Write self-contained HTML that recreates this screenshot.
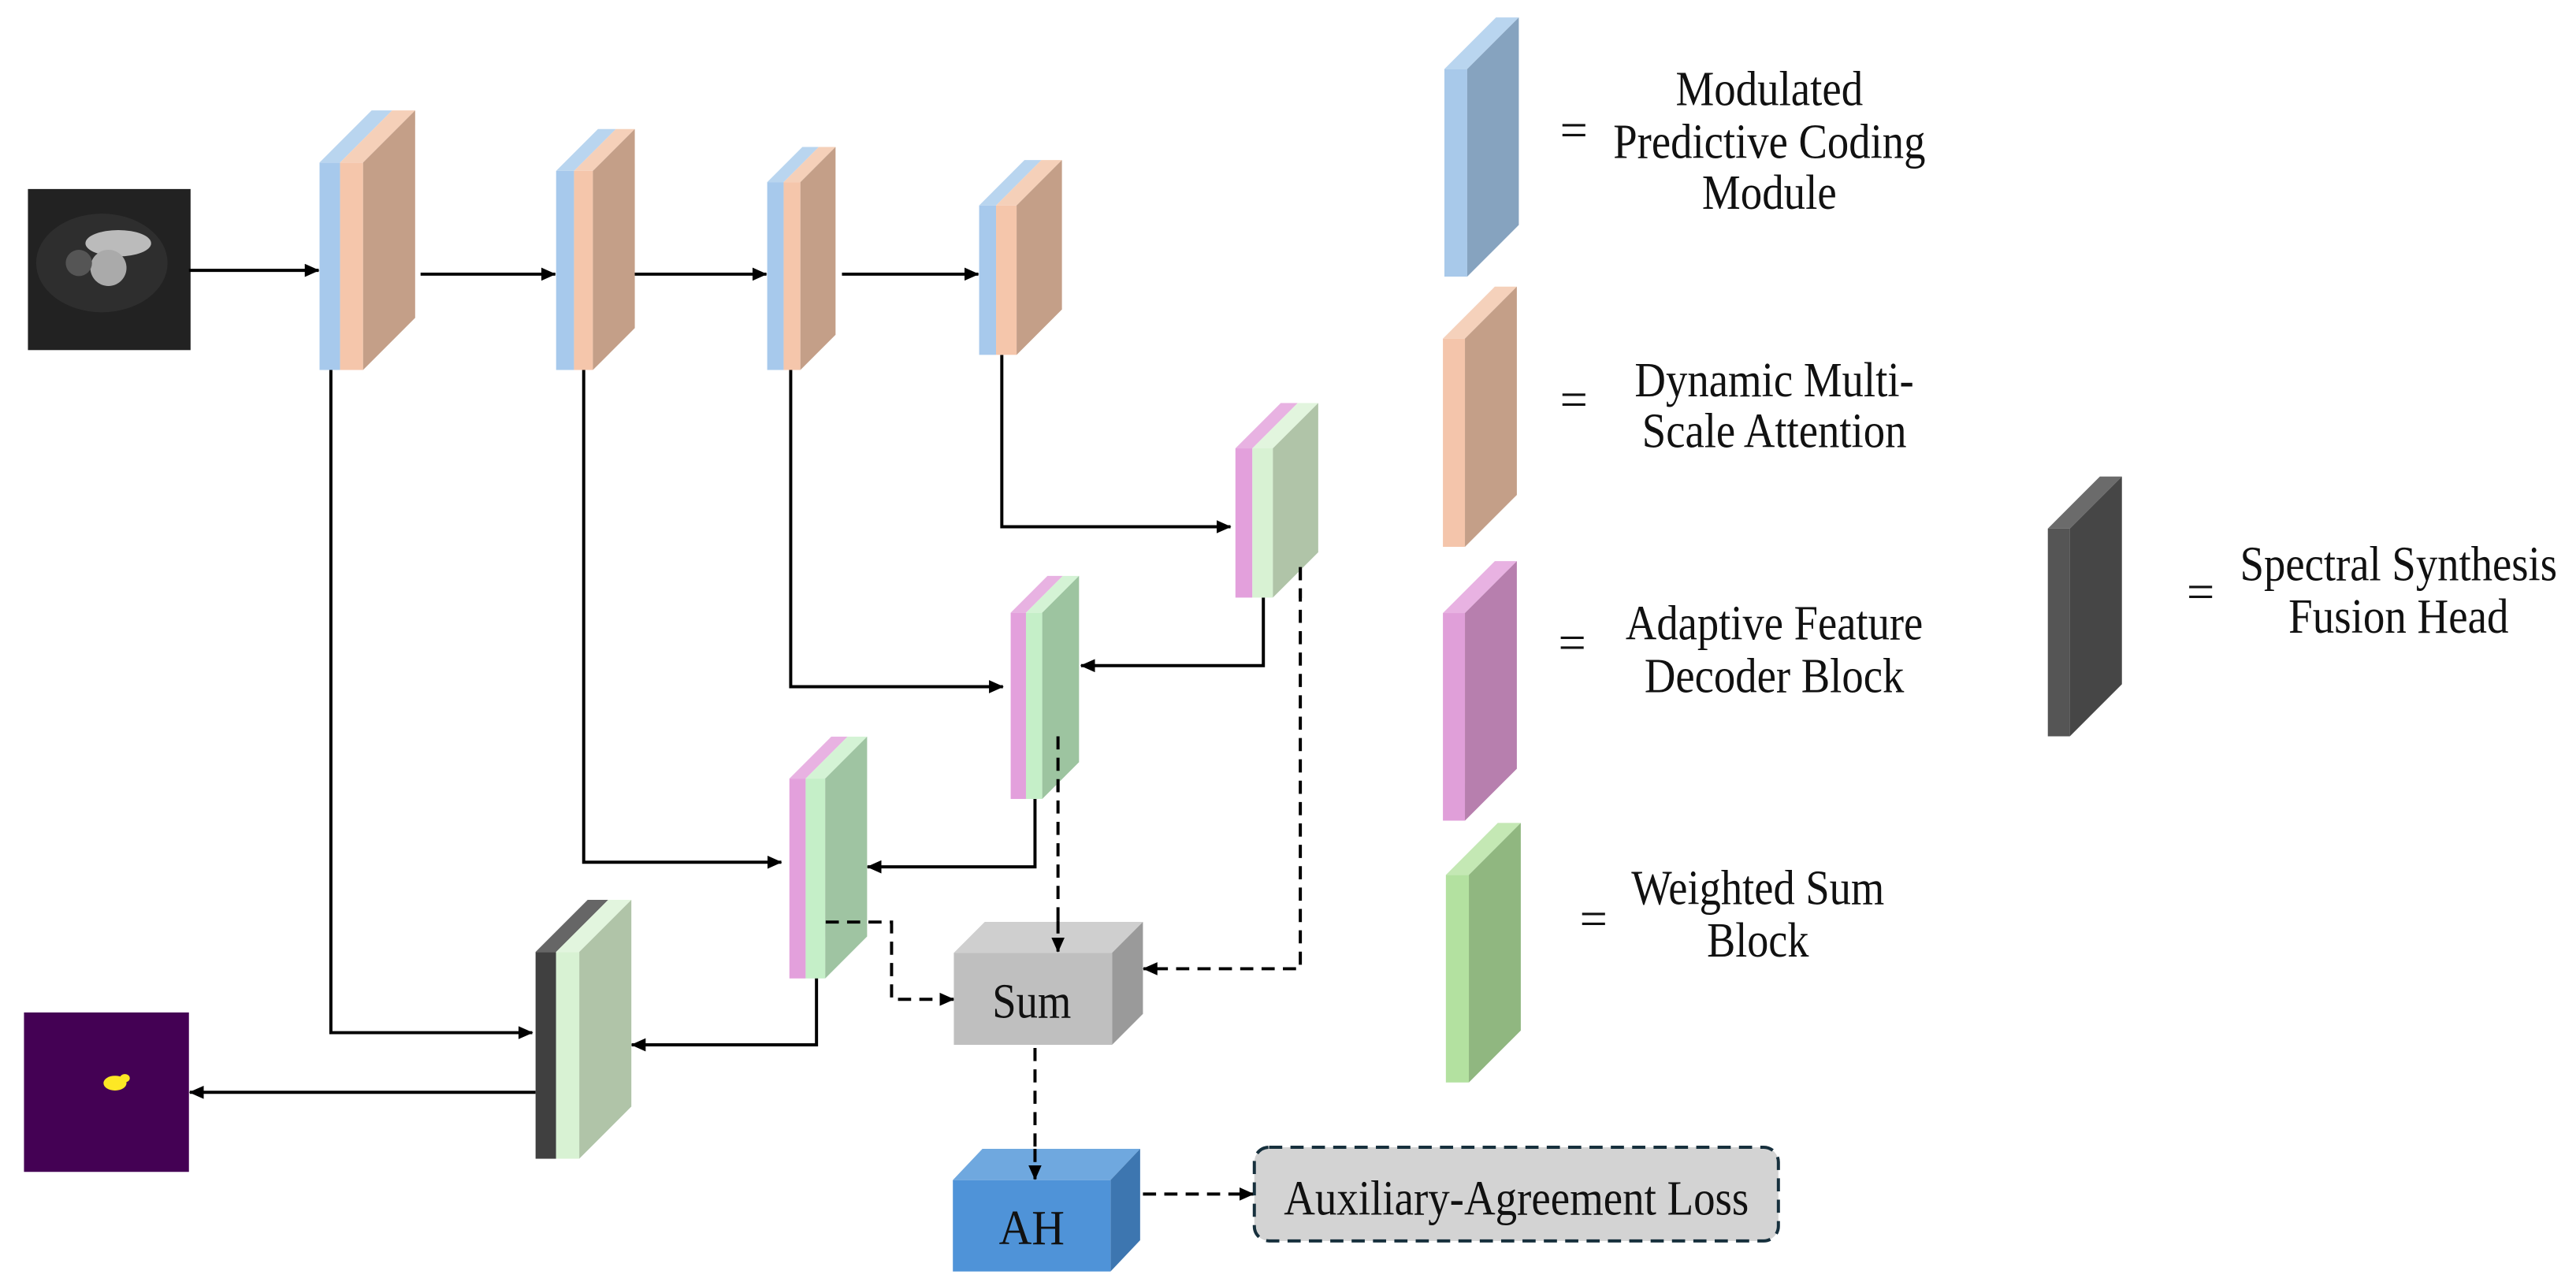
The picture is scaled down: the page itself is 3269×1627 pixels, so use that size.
<!DOCTYPE html>
<html><head><meta charset="utf-8"><style>
html,body{margin:0;padding:0;background:#fff;}
svg{display:block;font-family:"Liberation Serif","DejaVu Serif",serif;}
svg text{font-family:"Liberation Serif","DejaVu Serif",serif;fill:#111;}
</style></head><body>
<svg width="3269" height="1627" viewBox="0 0 1568 780" preserveAspectRatio="none" xmlns="http://www.w3.org/2000/svg">
<defs>
<marker id="ah" markerWidth="9" markerHeight="8" refX="8.5" refY="4" orient="auto" markerUnits="userSpaceOnUse">
<polygon points="0,0 9,4 0,8" fill="#000"/>
</marker>
</defs>
<rect width="1568" height="780" fill="#fff"/>

<rect x="17" y="115" width="99" height="98" fill="#222"/>
<ellipse cx="62" cy="160" rx="40" ry="30" fill="#2e2e2e"/>
<ellipse cx="72" cy="148" rx="20" ry="8" fill="#bbb"/>
<ellipse cx="66" cy="163" rx="11" ry="11" fill="#aaa"/>
<ellipse cx="48" cy="160" rx="8" ry="8" fill="#555"/>
<rect x="14.6" y="616" width="100.4" height="97" fill="#440154"/>
<ellipse cx="70" cy="659" rx="7" ry="4.5" fill="#fde725"/>
<ellipse cx="76" cy="656" rx="3" ry="2.5" fill="#fde725"/>

<g stroke="#000" stroke-width="1.9" fill="none">
<polyline points="115,164.5 194,164.5" marker-end="url(#ah)"/>
<polyline points="256,166.8 338,166.8" marker-end="url(#ah)"/>
<polyline points="384,166.8 466.5,166.8" marker-end="url(#ah)"/>
<polyline points="512.5,166.8 595.5,166.8" marker-end="url(#ah)"/>
<polyline points="609.8,216 609.8,320.5 749,320.5" marker-end="url(#ah)"/>
<polyline points="481.3,225 481.3,417.8 610.5,417.8" marker-end="url(#ah)"/>
<polyline points="355.3,225 355.3,524.6 475.6,524.6" marker-end="url(#ah)"/>
<polyline points="201.4,225 201.4,628.3 324,628.3" marker-end="url(#ah)"/>
<polyline points="769,363.6 769,405 658,405" marker-end="url(#ah)"/>
<polyline points="630,486 630,527.4 528,527.4" marker-end="url(#ah)"/>
<polyline points="497,595 497,635.7 384.5,635.7" marker-end="url(#ah)"/>
<polyline points="326,664.6 115.5,664.6" marker-end="url(#ah)"/>
</g>
<g stroke="#000" stroke-width="1.9" fill="none" stroke-dasharray="8,5">
<polyline points="791.5,345 791.5,589.4 696,589.4" marker-end="url(#ah)"/>
<polyline points="644,448 644,579" marker-end="url(#ah)"/>
<polyline points="502.6,561 542.7,561 542.7,608 580.5,608" marker-end="url(#ah)"/>
<polyline points="630,637.6 630,717.5" marker-end="url(#ah)"/>
<polyline points="695.7,726.5 763,726.5" marker-end="url(#ah)"/>
</g>

<g>
<rect x="194.5" y="98.9" width="12.5" height="126.2" fill="#a7c9ec"/>
<polygon points="194.5,98.9 207,98.9 238.7,67.2 226.2,67.2" fill="#b9d5ef"/>
<rect x="207" y="98.9" width="14" height="126.2" fill="#f5c6ab"/>
<polygon points="207,98.9 221,98.9 252.7,67.2 238.7,67.2" fill="#f5d0b9"/>
<polygon points="221,98.9 252.7,67.2 252.7,193.4 221,225.1" fill="#c49f88"/>

<rect x="338.5" y="104" width="10.9" height="121.1" fill="#a7c9ec"/>
<polygon points="338.5,104 349.4,104 374.9,78.5 364,78.5" fill="#b9d5ef"/>
<rect x="349.4" y="104" width="11.5" height="121.1" fill="#f5c6ab"/>
<polygon points="349.4,104 360.9,104 386.4,78.5 374.9,78.5" fill="#f5d0b9"/>
<polygon points="360.9,104 386.4,78.5 386.4,199.6 360.9,225.1" fill="#c49f88"/>

<rect x="467" y="110.8" width="10" height="114.3" fill="#a7c9ec"/>
<polygon points="467,110.8 477,110.8 498.4,89.4 488.4,89.4" fill="#b9d5ef"/>
<rect x="477" y="110.8" width="10.2" height="114.3" fill="#f5c6ab"/>
<polygon points="477,110.8 487.2,110.8 508.6,89.4 498.4,89.4" fill="#f5d0b9"/>
<polygon points="487.2,110.8 508.6,89.4 508.6,203.7 487.2,225.1" fill="#c49f88"/>

<rect x="596" y="125" width="10.3" height="90.9" fill="#a7c9ec"/>
<polygon points="596,125 606.3,125 633.9,97.4 623.6,97.4" fill="#b9d5ef"/>
<rect x="606.3" y="125" width="12.5" height="90.9" fill="#f5c6ab"/>
<polygon points="606.3,125 618.8,125 646.4,97.4 633.9,97.4" fill="#f5d0b9"/>
<polygon points="618.8,125 646.4,97.4 646.4,188.3 618.8,215.9" fill="#c49f88"/>
</g>

<g>
<rect x="752" y="272.8" width="10.3" height="90.8" fill="#e3a0dc"/>
<polygon points="752,272.8 762.3,272.8 789.9,245.2 779.6,245.2" fill="#e8b2e2"/>
<rect x="762.3" y="272.8" width="12.5" height="90.8" fill="#d8f2d3"/>
<polygon points="762.3,272.8 774.8,272.8 802.4,245.2 789.9,245.2" fill="#e2f5de"/>
<polygon points="774.8,272.8 802.4,245.2 802.4,336 774.8,363.6" fill="#b0c4a8"/>

<rect x="615.2" y="372.8" width="9.3" height="113.3" fill="#e3a0dc"/>
<polygon points="615.2,372.8 624.5,372.8 646.9,350.4 637.6,350.4" fill="#e8b2e2"/>
<rect x="624.5" y="372.8" width="9.9" height="113.3" fill="#c5efc8"/>
<polygon points="624.5,372.8 634.4,372.8 656.8,350.4 646.9,350.4" fill="#d4f3d5"/>
<polygon points="634.4,372.8 656.8,350.4 656.8,463.7 634.4,486.1" fill="#9dc4a0"/>

<rect x="480.5" y="473.7" width="9.9" height="121.6" fill="#e3a0dc"/>
<polygon points="480.5,473.7 490.4,473.7 515.9,448.2 506,448.2" fill="#e8b2e2"/>
<rect x="490.4" y="473.7" width="11.9" height="121.6" fill="#c5efc8"/>
<polygon points="490.4,473.7 502.3,473.7 527.8,448.2 515.9,448.2" fill="#d4f3d5"/>
<polygon points="502.3,473.7 527.8,448.2 527.8,569.8 502.3,595.3" fill="#9fc4a2"/>

<rect x="326" y="579.2" width="12.5" height="125.8" fill="#404040"/>
<polygon points="326,579.2 338.5,579.2 370.2,547.5 357.7,547.5" fill="#666"/>
<rect x="338.5" y="579.2" width="14.1" height="125.8" fill="#d8f2d3"/>
<polygon points="338.5,579.2 352.6,579.2 384.3,547.5 370.2,547.5" fill="#e2f5de"/>
<polygon points="352.6,579.2 384.3,547.5 384.3,673.3 352.6,705" fill="#b0c4a8"/>
</g>

<g stroke="#000" stroke-width="1.9" fill="none" stroke-dasharray="8,5">
<line x1="644" y1="448" x2="644" y2="486"/>
<line x1="791.5" y1="345" x2="791.5" y2="364"/>
<line x1="502.6" y1="561" x2="527.8" y2="561"/>
</g>

<polygon points="580.6,579.7 676.9,579.7 695.7,560.9 599.4,560.9" fill="#cfcfcf"/>
<polygon points="676.9,579.7 695.7,560.9 695.7,616.9 676.9,635.7" fill="#9a9a9a"/>
<rect x="580.6" y="579.7" width="96.3" height="56" fill="#bfbfbf"/>
<text x="628" y="609" font-size="30" text-anchor="middle" dominant-baseline="central" textLength="48" lengthAdjust="spacingAndGlyphs">Sum</text>
<line x1="644" y1="560" x2="644" y2="579" stroke="#000" stroke-width="1.9" stroke-dasharray="8,5" marker-end="url(#ah)"/>

<polygon points="580,718 676,718 694,699 598,699" fill="#6fa8df"/>
<polygon points="676,718 694,699 694,754.6 676,773.6" fill="#3d76b0"/>
<rect x="580" y="718" width="96" height="55.6" fill="#4f93d8"/>
<line x1="630" y1="699" x2="630" y2="717.5" stroke="#000" stroke-width="1.9" stroke-dasharray="8,5" marker-end="url(#ah)"/>
<text x="628" y="747" font-size="30" text-anchor="middle" dominant-baseline="central" textLength="40" lengthAdjust="spacingAndGlyphs">AH</text>

<rect x="763.5" y="698" width="319" height="57" rx="9" ry="9" fill="#d3d3d3" stroke="#17303d" stroke-width="1.9" stroke-dasharray="8,5"/>
<text x="923" y="729" font-size="30" text-anchor="middle" dominant-baseline="central" textLength="283" lengthAdjust="spacingAndGlyphs">Auxiliary-Agreement Loss</text>

<rect x="879.2" y="42" width="13.9" height="126.3" fill="#a8c9ea"/>
<polygon points="879.2,42 893.1,42 924.5,10.6 910.6,10.6" fill="#b9d5ef"/>
<polygon points="893.1,42 924.5,10.6 924.5,136.9 893.1,168.3" fill="#86a3bf"/>

<rect x="878.3" y="206" width="13.4" height="126.7" fill="#f4c5ab"/>
<polygon points="878.3,206 891.7,206 923.3,174.4 909.9,174.4" fill="#f5d1bb"/>
<polygon points="891.7,206 923.3,174.4 923.3,301.1 891.7,332.7" fill="#c49f88"/>

<rect x="878.3" y="373" width="13.4" height="126.3" fill="#e09fd9"/>
<polygon points="878.3,373 891.7,373 923.3,341.4 909.9,341.4" fill="#e8b2e2"/>
<polygon points="891.7,373 923.3,341.4 923.3,467.7 891.7,499.3" fill="#b77fae"/>

<rect x="880.1" y="532.3" width="14" height="126.3" fill="#b3e1a0"/>
<polygon points="880.1,532.3 894.1,532.3 925.7,500.7 911.7,500.7" fill="#c4e8b4"/>
<polygon points="894.1,532.3 925.7,500.7 925.7,627 894.1,658.6" fill="#90b780"/>

<rect x="1246.5" y="321.6" width="13.4" height="126.4" fill="#555"/>
<polygon points="1246.5,321.6 1259.9,321.6 1291.6,289.9 1278.2,289.9" fill="#6b6b6b"/>
<polygon points="1259.9,321.6 1291.6,289.9 1291.6,416.3 1259.9,448" fill="#464646"/>

<g font-size="30" text-anchor="middle" dominant-baseline="central">
<text x="958" y="79">=</text>
<text x="1077" y="54" textLength="114" lengthAdjust="spacingAndGlyphs">Modulated</text>
<text x="1077" y="86" textLength="190" lengthAdjust="spacingAndGlyphs">Predictive Coding</text>
<text x="1077" y="117" textLength="82" lengthAdjust="spacingAndGlyphs">Module</text>

<text x="958" y="243">=</text>
<text x="1080" y="231" textLength="170" lengthAdjust="spacingAndGlyphs">Dynamic Multi-</text>
<text x="1080" y="262" textLength="161" lengthAdjust="spacingAndGlyphs">Scale Attention</text>

<text x="957" y="391">=</text>
<text x="1080" y="379" textLength="181" lengthAdjust="spacingAndGlyphs">Adaptive Feature</text>
<text x="1080" y="411" textLength="158" lengthAdjust="spacingAndGlyphs">Decoder Block</text>

<text x="970" y="559">=</text>
<text x="1070" y="540" textLength="154" lengthAdjust="spacingAndGlyphs">Weighted Sum</text>
<text x="1070" y="572" textLength="62" lengthAdjust="spacingAndGlyphs">Block</text>

<text x="1339.5" y="360">=</text>
<text x="1460" y="343" textLength="193" lengthAdjust="spacingAndGlyphs">Spectral Synthesis</text>
<text x="1460" y="375" textLength="134" lengthAdjust="spacingAndGlyphs">Fusion Head</text>
</g>
</svg>
</body></html>
